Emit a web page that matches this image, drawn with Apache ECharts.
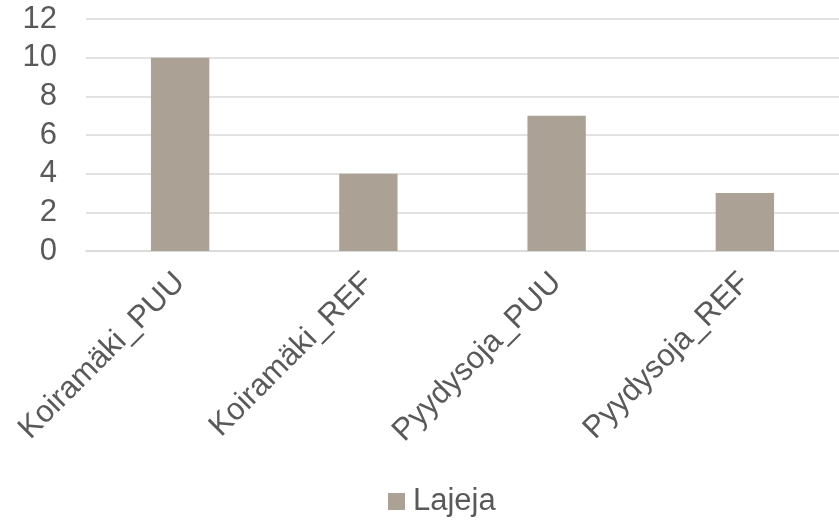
<!DOCTYPE html>
<html>
<head>
<meta charset="utf-8">
<script src="https://cdn.jsdelivr.net/npm/echarts@6/dist/echarts.min.js"></script>
<style>
  html, body { margin: 0; padding: 0; background: #fff; }
  #chart { width: 839px; height: 522px; }
</style>
</head>
<body>
<div id="chart"></div>
<script>
// data
var categories = ["Koiramäki_PUU", "Koiramäki_REF", "Pyydysoja_PUU", "Pyydysoja_REF"];
var seriesName = "Lajeja";
var lajeja = [10, 4, 7, 3];

var chart = echarts.init(document.getElementById("chart"));
chart.setOption({
  backgroundColor: "#ffffff",
  animation: false,
  textStyle: { fontFamily: "Liberation Sans, Arial, sans-serif" },
  grid: {
    left: 86,
    right: -4,
    top: 19,
    bottom: 271
  },
  legend: {
    bottom: 0,
    left: 383,
    icon: "rect",
    itemWidth: 17,
    itemHeight: 17,
    itemGap: 4,
    textStyle: { color: "#595959", fontSize: 31, padding: [0, 0, 0, 3] },
    data: [seriesName]
  },
  xAxis: {
    type: "category",
    data: categories,
    axisLine: { show: true, lineStyle: { color: "#d9d9d9", width: 1.5 } },
    axisTick: { show: false },
    axisLabel: {
      interval: 0,
      rotate: 45,
      margin: 27,
      color: "#595959",
      fontSize: 31
    }
  },
  yAxis: {
    type: "value",
    min: 0,
    max: 12,
    interval: 2,
    axisLine: { show: false },
    axisTick: { show: false },
    axisLabel: { color: "#595959", fontSize: 31, margin: 29 },
    splitLine: { lineStyle: { color: "#d9d9d9", width: 1.5 } }
  },
  series: [
    {
      name: seriesName,
      type: "bar",
      barWidth: "31%",
      itemStyle: { color: "#aba295" },
      data: lajeja
    }
  ]
});
</script>
</body>
</html>
